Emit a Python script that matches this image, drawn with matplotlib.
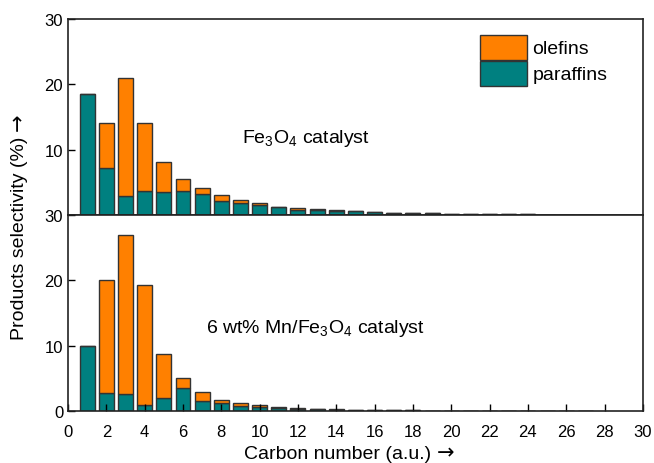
import numpy as np
import matplotlib.pyplot as plt

plt.rcParams['font.family'] = ['Liberation Sans', 'DejaVu Sans']
plt.rcParams['mathtext.fontset'] = 'custom'
plt.rcParams['mathtext.rm'] = 'Liberation Sans'

carbon = np.arange(1, 28)

# Fe3O4 catalyst
fe_paraffins = [18.5, 7.15, 2.9, 3.7, 3.5, 3.7, 3.2, 2.1, 1.9, 1.5, 1.15, 0.8, 0.75, 0.65, 0.55,
                0.4, 0.35, 0.3, 0.25, 0.2, 0.15, 0.12, 0.1, 0.08, 0.06, 0.05, 0.03]
fe_olefins = [0.0, 6.95, 18.1, 10.4, 4.6, 1.8, 0.9, 0.9, 0.45, 0.3, 0.05, 0.3, 0.15, 0.1, 0.05,
              0, 0, 0, 0, 0, 0, 0, 0, 0, 0, 0, 0]

# 6 wt% Mn/Fe3O4 catalyst
mn_paraffins = [10.0, 2.8, 2.55, 0.97, 2.0, 3.6, 1.5, 1.3, 0.7, 0.55, 0.5, 0.3, 0.25, 0.2, 0.18,
                0.15, 0.12, 0.1, 0.08, 0.06, 0, 0, 0, 0, 0, 0, 0]
mn_olefins = [0.0, 17.3, 24.45, 18.33, 6.7, 1.45, 1.4, 0.4, 0.5, 0.4, 0.1, 0.1, 0.05, 0.05, 0.02,
              0, 0, 0, 0, 0, 0, 0, 0, 0, 0, 0, 0]

orange = '#FF8000'
teal = '#008080'
edge = '#333333'

W, H = 654, 464
fig = plt.figure(figsize=(W / 100, H / 100), dpi=100)
ax1 = fig.add_axes([0.104, 0.5345, 0.879, 0.4225])
ax2 = fig.add_axes([0.104, 0.112, 0.879, 0.4225])

for ax, par, ole in [(ax1, fe_paraffins, fe_olefins), (ax2, mn_paraffins, mn_olefins)]:
    ax.bar(carbon, par, width=0.78, color=teal, edgecolor=edge, linewidth=1, label='paraffins')
    ax.bar(carbon, ole, width=0.78, bottom=par, color=orange, edgecolor=edge, linewidth=1,
           label='olefins')
    ax.set_xlim(0, 30)
    ax.set_ylim(0, 30)
    ax.tick_params(direction='in', labelsize=12, length=5, width=1)
    for s in ax.spines.values():
        s.set_linewidth(1.2)
        s.set_color('#222222')

ax1.set_yticks([10, 20, 30])
ax1.set_xticks([])
ax2.set_yticks([0, 10, 20, 30])
ax2.set_xticks(np.arange(0, 31, 2))
ax2.tick_params(axis='x', pad=9)

h, l = ax1.get_legend_handles_labels()
ax1.legend(h[::-1], l[::-1], loc='upper left', bbox_to_anchor=(0.7165, 0.92), frameon=False,
           fontsize=14, handlelength=2.4, handleheight=1.6, labelspacing=0.05,
           handletextpad=0.3, borderaxespad=0, borderpad=0)

ax1.text(9.1, 11.2, 'Fe$_3$O$_4$ catalyst', fontsize=14, va='baseline')
ax2.text(7.2, 12.1, '6 wt% Mn/Fe$_3$O$_4$ catalyst', fontsize=14, va='baseline')

# axis labels, with a separate longer arrow glyph after each
xl = fig.text(244 / W, 5 / H, 'Carbon number (a.u.)', fontsize=14, ha='left', va='baseline')
yl = fig.text(24 / W, 124 / H, 'Products selectivity (%)', fontsize=14, rotation=90,
              rotation_mode='anchor', ha='left', va='baseline')
fig.canvas.draw()
r = fig.canvas.get_renderer()
bx = xl.get_window_extent(r)
by = yl.get_window_extent(r)
fig.text((bx.x1 + 6) / W, 5 / H, '\u2192', fontsize=15, family='DejaVu Sans',
         ha='left', va='baseline')
fig.text(24 / W, (by.y1 + 6) / H, '\u2192', fontsize=15, family='DejaVu Sans', rotation=90,
         rotation_mode='anchor', ha='left', va='baseline')

fig.savefig('out.png', dpi=100)
